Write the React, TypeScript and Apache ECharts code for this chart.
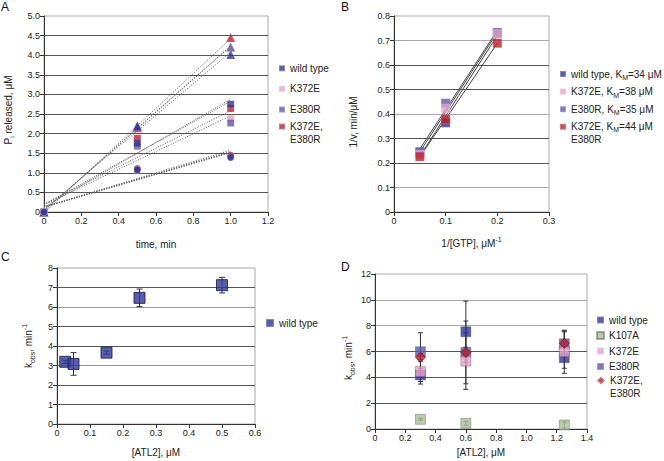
import { useEffect, useRef } from 'react';
import * as echarts from 'echarts';

const FONT = '"Liberation Sans", Arial, Helvetica, sans-serif';
const TEXT = '#222';

// Colours
const C_WT = '#2f3393';
const C_K372E = '#e6a2c9';
const C_E380R = '#5c58aa';
const C_DOUBLE = '#be1e2d';
const C_K107A = '#a9c199';

// ---------- Panel A : Pi released vs time ----------
const aTime = [0, 0.5, 1.0];
const aNames = ['wild type', 'K372E', 'E380R', 'K372E,\nE380R'];
const aColors = [C_WT, C_K372E, C_E380R, C_DOUBLE];
const aTriangles = [
  [0, 2.19, 4.02],
  [0, 2.18, 4.2],
  [0, 2.2, 4.21],
  [0, 2.15, 4.45],
];
const aSquares = [
  [0, 1.75, 2.75],
  [0, 1.8, 2.38],
  [0, 1.68, 2.27],
  [0, 1.88, 2.64],
];
const aCircles = [
  [0, 1.08, 1.4],
  [0, 1.1, 1.41],
  [0, 1.06, 1.39],
  [0, 1.11, 1.45],
];
const aDrawOrder = [1, 3, 2, 0];

// ---------- Panel B : Lineweaver-Burk ----------
const bInvGtp = [0.05, 0.1, 0.2];
const bNames = ['wild type, KM=34 μM', 'K372E, KM=38 μM', 'E380R, KM=35 μM', 'K372E, KM=44 μM\nE380R'];
const bColors = [C_WT, C_K372E, C_E380R, C_DOUBLE];
const bInvV = [
  [0.246, 0.364, 0.73],
  [0.235, 0.423, 0.728],
  [0.24, 0.444, 0.733],
  [0.226, 0.378, 0.689],
];
const bDrawOrder = [0, 2, 1, 3];

// ---------- Panel C : kobs vs [ATL2], wild type ----------
const cAtl2 = [0.025, 0.05, 0.15, 0.25, 0.5];
const cKobs = [3.19, 3.08, 3.66, 6.47, 7.12];
const cErr = [0.08, 0.58, 0.08, 0.45, 0.4];

// ---------- Panel D : kobs vs [ATL2], mutants ----------
const dAtl2 = [0.3, 0.6, 1.25];
const dNames = ['wild type', 'K107A', 'E380R', 'K372E', 'K372E,\nE380R'];
const dColors = [C_WT, C_K107A, C_E380R, C_K372E, C_DOUBLE];
const dSymbols = ['rect', 'rect', 'rect', 'rect', 'diamond'];
const dKobs = [
  [4.18, 7.53, 5.52],
  [0.75, 0.44, 0.31],
  [5.98, 5.93, 6.6],
  [4.44, 5.26, 5.98],
  [5.55, 5.93, 6.63],
];
const dErr = [
  [0.5, 2.37, 0.82],
  [0.08, 0.15, 0.25],
  [1.47, 2.43, 0.98],
  [0.96, 2.19, 1.67],
  [0.3, 0.4, 0.9],
];

const RICH = {
  sub: { fontSize: 7, fontFamily: FONT, color: TEXT, verticalAlign: 'bottom' },
  sup: { fontSize: 7, fontFamily: FONT, color: TEXT, verticalAlign: 'top' },
};

function linFit(xs: number[], ys: number[]) {
  const n = xs.length;
  const mx = xs.reduce((a, b) => a + b, 0) / n;
  const my = ys.reduce((a, b) => a + b, 0) / n;
  let sxy = 0;
  let sxx = 0;
  for (let i = 0; i < n; i++) {
    sxy += (xs[i] - mx) * (ys[i] - my);
    sxx += (xs[i] - mx) * (xs[i] - mx);
  }
  const m = sxy / sxx;
  return { m, b: my - m * mx };
}

function valueAxis(
  gridIndex: number,
  min: number,
  max: number,
  interval: number,
  digits: number,
  name: string,
  nameGap: number,
  extra: any = {}
) {
  return {
    type: 'value',
    gridIndex,
    min,
    max,
    interval,
    name,
    nameLocation: 'middle',
    nameGap,
    nameTextStyle: { fontSize: 10, color: TEXT, fontFamily: FONT, lineHeight: 15, rich: RICH },
    axisLine: { show: true, onZero: false, lineStyle: { color: '#333', width: 1 } },
    axisTick: { show: true, length: 4, lineStyle: { color: '#333', width: 1 } },
    axisLabel: {
      fontSize: 9,
      color: TEXT,
      fontFamily: FONT,
      margin: 4,
      formatter: (v: number) => (v === 0 ? '0' : v.toFixed(digits)),
    },
    splitLine: { show: false },
    ...extra,
  };
}

function ySplit(colors: string[]) {
  return {
    splitLine: { show: true, showMaxLine: false, lineStyle: { color: colors, width: 1 } },
  };
}

function errorRender(cap: number) {
  return (params: any, api: any) => {
    const x = api.value(0);
    const lo = api.coord([x, api.value(1)]);
    const hi = api.coord([x, api.value(2)]);
    const style = { stroke: '#333', lineWidth: 1 };
    return {
      type: 'group',
      children: [
        { type: 'line', shape: { x1: lo[0], y1: lo[1], x2: hi[0], y2: hi[1] }, style },
        { type: 'line', shape: { x1: lo[0] - cap, y1: lo[1], x2: lo[0] + cap, y2: lo[1] }, style },
        { type: 'line', shape: { x1: hi[0] - cap, y1: hi[1], x2: hi[0] + cap, y2: hi[1] }, style },
      ],
    };
  };
}

function buildOption() {
  const series: any[] = [];

  // Panel A markers (squares first so legend picks square style)
  const aShapes: [number[][], string, number][] = [
    [aSquares, 'rect', 7],
    [aTriangles, 'triangle', 9],
    [aCircles, 'circle', 7],
  ];
  aShapes.forEach(([vals, symbol, size]) => {
    aDrawOrder.forEach((p) => {
      series.push({
        type: 'scatter',
        name: aNames[p],
        xAxisIndex: 0,
        yAxisIndex: 0,
        symbol,
        symbolSize: size,
        itemStyle: { color: aColors[p], borderColor: 'rgba(255,255,255,0.35)', borderWidth: 0.6 },
        data: aTime.map((t, j) => [t, vals[p][j]]),
        z: 3,
      });
    });
  });
  // Panel A dotted trend lines
  aShapes.forEach(([vals]) => {
    aDrawOrder.forEach((p) => {
      const f = linFit(aTime, vals[p]);
      series.push({
        type: 'line',
        name: aNames[p] + ' trend',
        xAxisIndex: 0,
        yAxisIndex: 0,
        symbol: 'none',
        silent: true,
        lineStyle: { color: '#555', width: 1, type: [1, 1.6] },
        data: [
          [aTime[0], f.b],
          [aTime[aTime.length - 1], f.m * aTime[aTime.length - 1] + f.b],
        ],
        z: 2,
      });
    });
  });

  // Panel B fit lines + markers
  bDrawOrder.forEach((p) => {
    const f = linFit(bInvGtp, bInvV[p]);
    const x0 = bInvGtp[0];
    const x1 = bInvGtp[bInvGtp.length - 1];
    series.push({
      type: 'line',
      name: bNames[p] + ' fit',
      xAxisIndex: 1,
      yAxisIndex: 1,
      symbol: 'none',
      silent: true,
      lineStyle: { color: '#444', width: 1 },
      data: [
        [x0, f.m * x0 + f.b],
        [x1, f.m * x1 + f.b],
      ],
      z: 2,
    });
  });
  bDrawOrder.forEach((p) => {
    series.push({
      type: 'scatter',
      name: bNames[p],
      xAxisIndex: 1,
      yAxisIndex: 1,
      symbol: 'rect',
      symbolSize: 9,
      itemStyle: { color: bColors[p], borderColor: 'rgba(255,255,255,0.35)', borderWidth: 0.6 },
      data: bInvGtp.map((x, j) => [x, bInvV[p][j]]),
      z: 3,
    });
  });

  // Panel C
  series.push({
    type: 'custom',
    name: 'wild type error (C)',
    xAxisIndex: 2,
    yAxisIndex: 2,
    silent: true,
    renderItem: errorRender(3),
    encode: { x: 0, y: [1, 2] },
    data: cAtl2.map((x, i) => [x, cKobs[i] - cErr[i], cKobs[i] + cErr[i]]),
    z: 1,
  });
  series.push({
    type: 'scatter',
    name: 'wild type',
    xAxisIndex: 2,
    yAxisIndex: 2,
    symbol: 'rect',
    symbolSize: 11,
    itemStyle: { color: '#31369a', borderColor: '#14163f', borderWidth: 1 },
    data: cAtl2.map((x, i) => [x, cKobs[i]]),
    z: 3,
  });

  // Panel D
  dNames.forEach((n, p) => {
    series.push({
      type: 'custom',
      name: n + ' error (D)',
      xAxisIndex: 3,
      yAxisIndex: 3,
      silent: true,
      renderItem: errorRender(2.5),
      encode: { x: 0, y: [1, 2] },
      data: dAtl2.map((x, j) => [x, dKobs[p][j] - dErr[p][j], dKobs[p][j] + dErr[p][j]]),
      z: 1,
    });
  });
  dNames.forEach((n, p) => {
    series.push({
      type: 'scatter',
      name: n,
      xAxisIndex: 3,
      yAxisIndex: 3,
      symbol: dSymbols[p],
      symbolSize: 10,
      itemStyle: {
        color: dColors[p],
        borderColor: p === 4 ? '#6e0d16' : 'rgba(70,70,70,0.55)',
        borderWidth: 0.8,
      },
      data: dAtl2.map((x, j) => [x, dKobs[p][j]]),
      z: 3,
    });
  });

  const legendText = { fontSize: 10, color: TEXT, fontFamily: FONT, lineHeight: 13 };
  const legendBase = {
    orient: 'vertical',
    padding: 0,
    selectedMode: false,
    icon: 'rect',
  };

  const bFormatter = (name: string) => name.replace('KM', 'K{sub|M}');
  // a leading blank line keeps the icon level with the first line of a two-line label
  const twoLine = (name: string) => '\n' + name;

  return {
    animation: false,
    backgroundColor: '#fff',
    textStyle: { fontFamily: FONT },
    grid: [
      { left: 39, top: 16, width: 229, height: 196, show: true, borderColor: '#aaa', borderWidth: 1, backgroundColor: 'transparent' },
      { left: 394, top: 16, width: 155, height: 196, show: true, borderColor: '#aaa', borderWidth: 1, backgroundColor: 'transparent' },
      { left: 57, top: 268, width: 198, height: 156, show: true, borderColor: '#aaa', borderWidth: 1, backgroundColor: 'transparent' },
      { left: 375, top: 274, width: 212, height: 155, show: true, borderColor: '#aaa', borderWidth: 1, backgroundColor: 'transparent' },
    ],
    xAxis: [
      valueAxis(0, 0, 1.2, 0.2, 1, 'time, min', 25),
      valueAxis(1, 0, 0.3, 0.1, 1, '1/[GTP], μM{sup|-1}', 24),
      valueAxis(2, 0, 0.6, 0.1, 1, '[ATL2], μM', 21),
      valueAxis(3, 0, 1.4, 0.2, 1, '[ATL2], μM', 16),
    ],
    yAxis: [
      valueAxis(0, 0, 5, 0.5, 1, 'P{sub|i} released, μM', 28, {
        nameRotate: 90,
        ...ySplit(['#555']),
        nameTextStyle: { fontSize: 10, color: TEXT, fontFamily: FONT, lineHeight: 15, rich: RICH, padding: [0, 0, 0, 8] },
      }),
      valueAxis(1, 0, 0.8, 0.1, 1, '1/v, min/μM', 33, {
        nameRotate: 90,
        ...ySplit(['#555', '#aaa', '#555']),
        nameTextStyle: { fontSize: 10, color: TEXT, fontFamily: FONT, lineHeight: 15, rich: RICH, padding: [0, 16, 0, 0] },
      }),
      valueAxis(2, 0, 8, 1, 0, 'k{sub|obs}, min{sup|-1}', 21, {
        nameRotate: 90,
        ...ySplit(['#999', '#555', '#555']),
      }),
      valueAxis(3, 0, 12, 2, 0, 'k{sub|obs}, min{sup|-1}', 19, {
        nameRotate: 90,
        ...ySplit(['#555', '#555', '#555', '#555', '#aaa', '#aaa']),
        nameTextStyle: { fontSize: 10, color: TEXT, fontFamily: FONT, lineHeight: 15, rich: RICH, padding: [0, 13, 0, 0] },
      }),
    ],
    legend: [
      {
        ...legendBase,
        left: 278,
        top: 61.8,
        itemWidth: 6,
        itemHeight: 6,
        itemGap: 7.6,
        textStyle: legendText,
        data: ['wild type', 'K372E', 'E380R'],
      },
      {
        ...legendBase,
        left: 278,
        top: 107.5,
        itemWidth: 6,
        itemHeight: 6,
        formatter: twoLine,
        textStyle: { ...legendText, lineHeight: 12.7 },
        data: ['K372E,\nE380R'],
      },
      {
        ...legendBase,
        left: 559,
        top: 67,
        itemWidth: 6,
        itemHeight: 6,
        itemGap: 3.6,
        formatter: bFormatter,
        textStyle: { ...legendText, lineHeight: 14, rich: RICH },
        data: bNames.slice(0, 3),
      },
      {
        ...legendBase,
        left: 559,
        top: 106.75,
        itemWidth: 6,
        itemHeight: 6,
        formatter: (name: string) => twoLine(bFormatter(name)),
        textStyle: { ...legendText, lineHeight: 13.3, rich: RICH },
        data: [bNames[3]],
      },
      {
        ...legendBase,
        left: 265,
        top: 316.5,
        itemWidth: 8,
        itemHeight: 8,
        textStyle: legendText,
        data: ['wild type'],
      },
      {
        ...legendBase,
        left: 596,
        top: 313.5,
        itemWidth: 7,
        itemHeight: 7,
        itemGap: 2.5,
        textStyle: legendText,
        data: ['wild type', 'K107A', 'K372E', 'E380R'],
      },
      {
        ...legendBase,
        left: 596,
        top: 361.5,
        itemWidth: 8,
        itemHeight: 8,
        formatter: twoLine,
        textStyle: { ...legendText, lineHeight: 12.7 },
        data: [{ name: 'K372E,\nE380R', icon: 'diamond' }],
      },
    ],
    graphic: [
      { type: 'text', x: 1, y: 1, style: { text: 'A', fontSize: 12, fill: '#111', fontFamily: FONT } },
      { type: 'text', x: 341, y: 1, style: { text: 'B', fontSize: 12, fill: '#111', fontFamily: FONT } },
      { type: 'text', x: 1, y: 251, style: { text: 'C', fontSize: 12, fill: '#111', fontFamily: FONT } },
      { type: 'text', x: 341, y: 261, style: { text: 'D', fontSize: 12, fill: '#111', fontFamily: FONT } },
    ],
    series,
  };
}

export default function App() {
  const ref = useRef<HTMLDivElement>(null);
  useEffect(() => {
    if (!ref.current) return;
    const chart = echarts.init(ref.current, null, { renderer: 'svg' });
    chart.setOption(buildOption() as any);
    return () => chart.dispose();
  }, []);
  return (
    <div
      ref={ref}
      style={{ position: 'absolute', left: 0, top: 0, width: 664, height: 461, background: '#fff' }}
    />
  );
}
